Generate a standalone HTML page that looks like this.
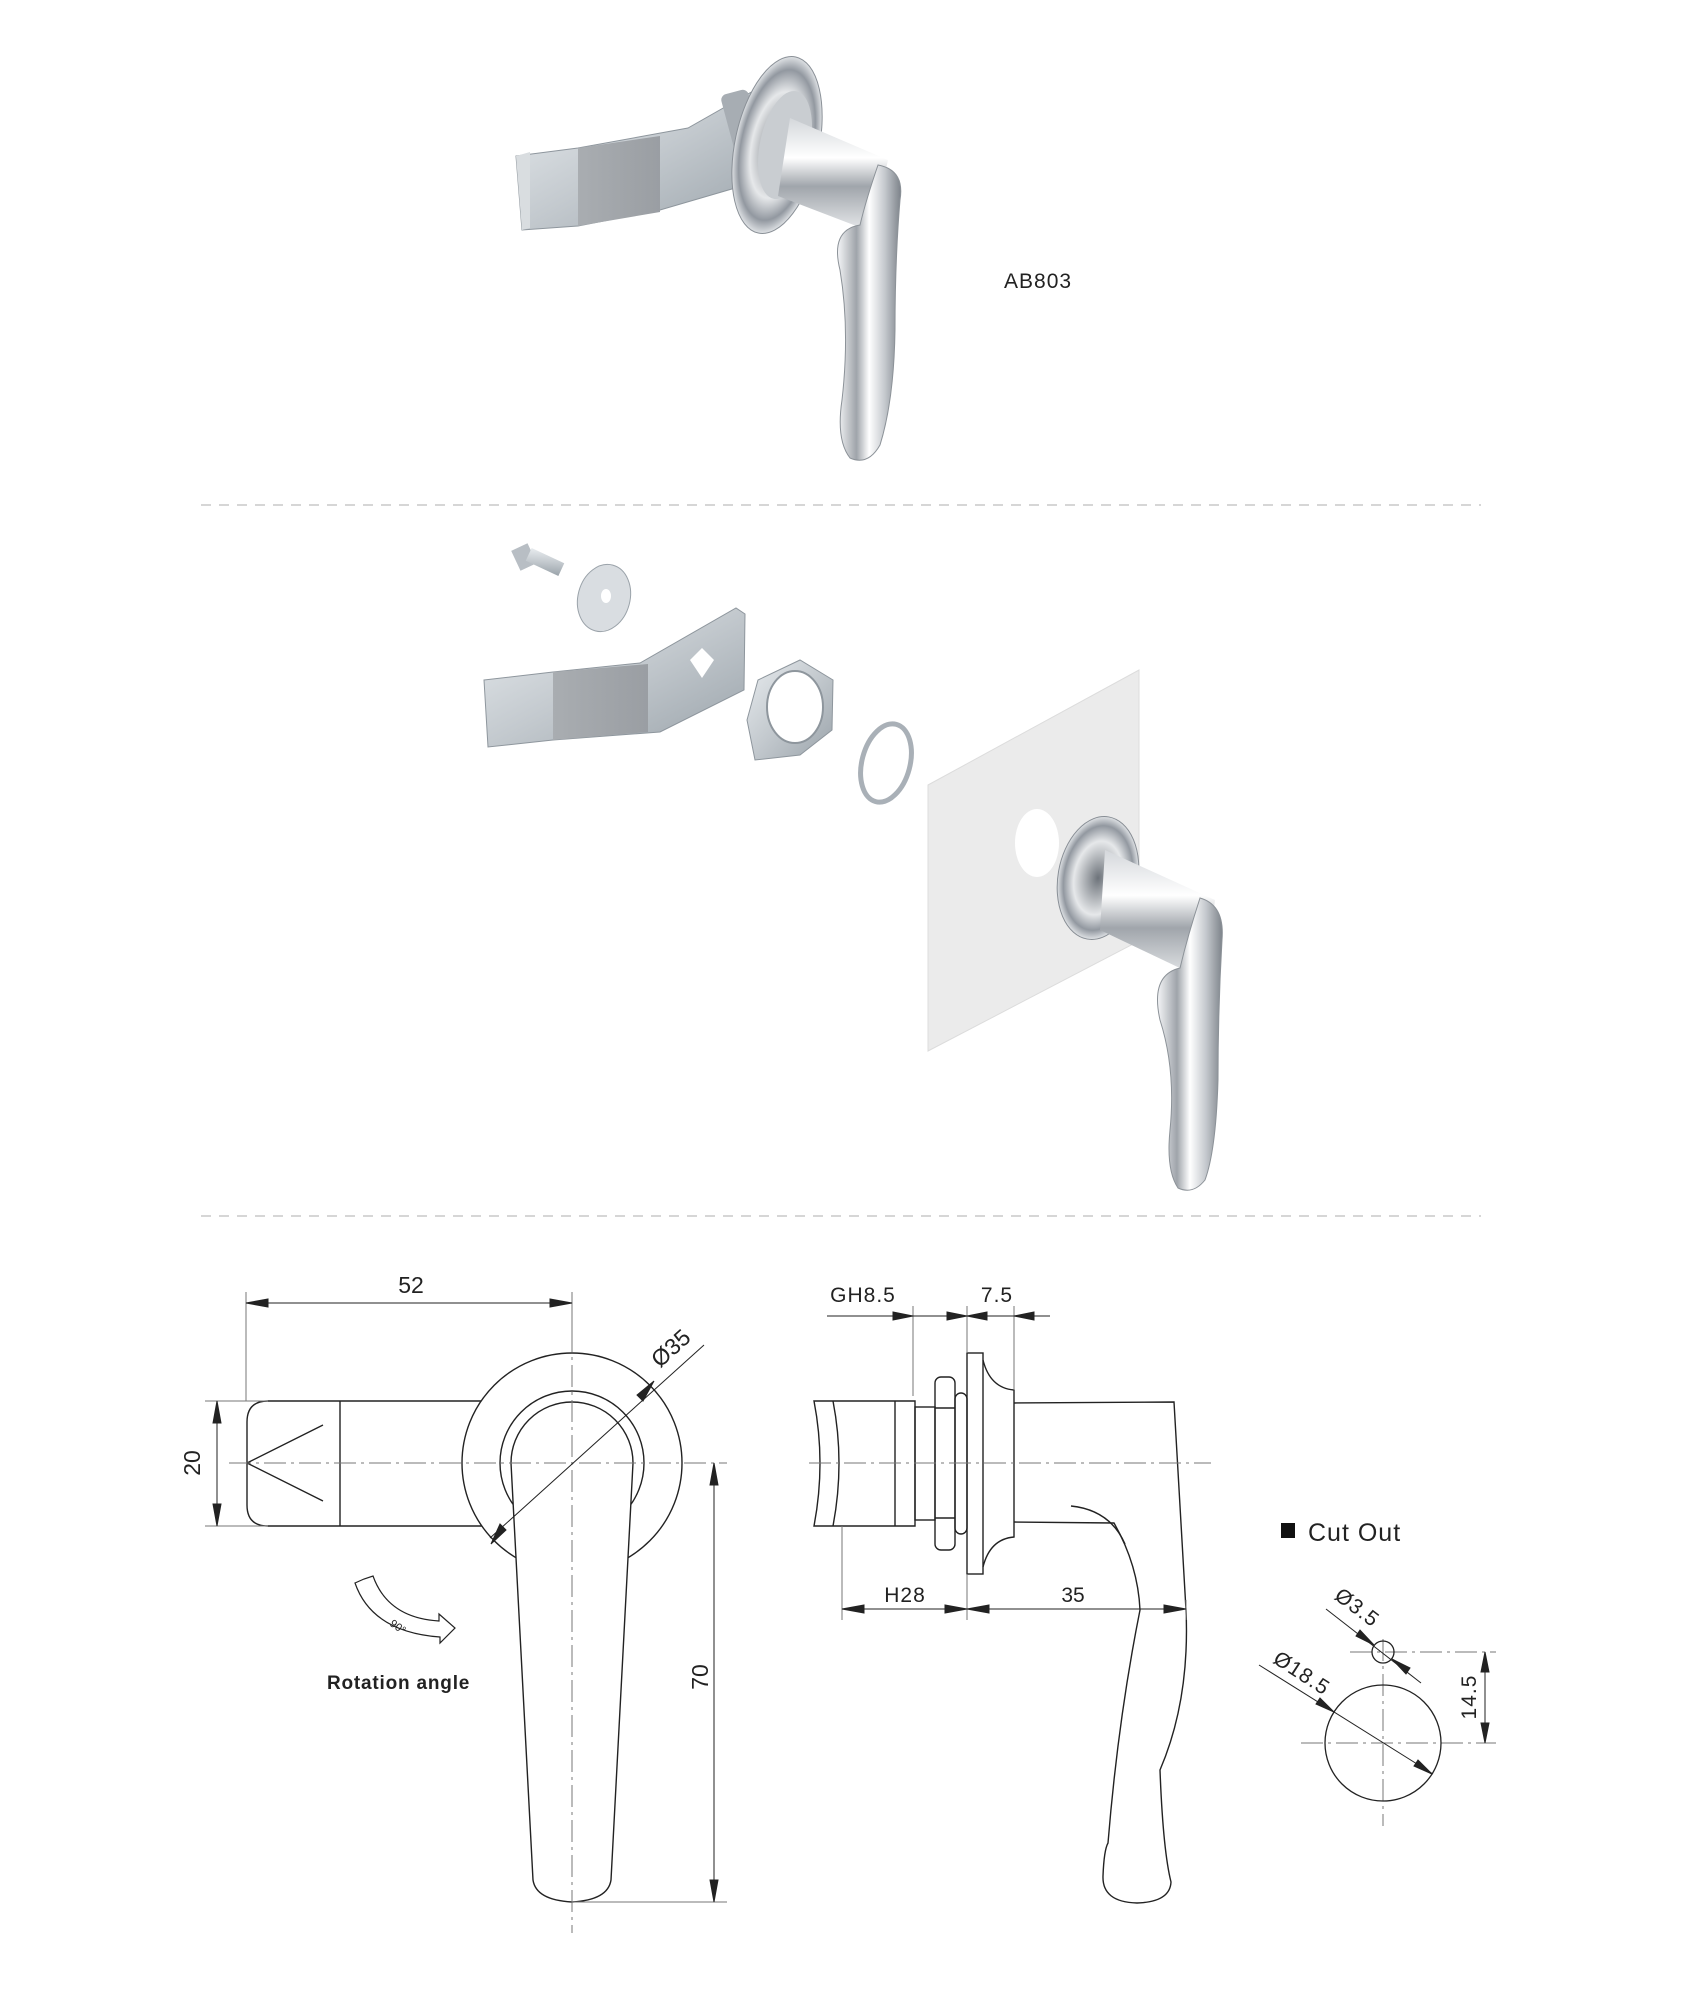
<!DOCTYPE html>
<html><head><meta charset="utf-8"><style>
html,body{margin:0;padding:0;background:#fff;}
svg{display:block;}
text{font-family:"Liberation Sans",sans-serif;fill:#222;}
</style></head><body>
<svg width="1682" height="1994" viewBox="0 0 1682 1994" xmlns="http://www.w3.org/2000/svg">
<defs>
<linearGradient id="zinc" x1="0" y1="0" x2="1" y2="1"><stop offset="0" stop-color="#e8ecef"/><stop offset="0.5" stop-color="#c3c9ce"/><stop offset="1" stop-color="#9aa3aa"/></linearGradient>
<linearGradient id="tex" x1="0" y1="0" x2="1" y2="0"><stop offset="0" stop-color="#a9adb1"/><stop offset="1" stop-color="#9a9ea3"/></linearGradient>
<linearGradient id="chrome" x1="0" y1="0" x2="1" y2="0"><stop offset="0" stop-color="#f4f5f7"/><stop offset="0.3" stop-color="#9fa4aa"/><stop offset="0.5" stop-color="#ffffff"/><stop offset="0.75" stop-color="#c4c8cd"/><stop offset="1" stop-color="#7d838a"/></linearGradient>
<linearGradient id="chrome2" x1="0" y1="0" x2="0" y2="1"><stop offset="0" stop-color="#d4d7db"/><stop offset="0.35" stop-color="#ffffff"/><stop offset="0.6" stop-color="#a0a5ab"/><stop offset="1" stop-color="#e9ebed"/></linearGradient>
<radialGradient id="disc"><stop offset="0" stop-color="#6d737a"/><stop offset="0.6" stop-color="#e6e8ea"/><stop offset="0.85" stop-color="#9298a0"/><stop offset="1" stop-color="#dfe2e5"/></radialGradient>
</defs>

<!-- ===== TOP PRODUCT ===== -->
<g>
<polygon points="516,156 578,148 688,128 762,86 770,94 770,160 742,186 660,210 578,226 522,230" fill="url(#zinc)" stroke="#8e969d" stroke-width="1"/>
<polygon points="578,148 660,136 660,212 578,226" fill="url(#tex)"/>
<polygon points="516,156 530,152 530,228 522,230" fill="#d9dde0"/>
<rect x="735" y="90" width="28" height="120" rx="6" fill="#a7adb3" transform="rotate(-15 749 150)"/>
<ellipse cx="777" cy="145" rx="42" ry="90" fill="url(#disc)" stroke="#8a9097" transform="rotate(12 777 145)"/>
<ellipse cx="785" cy="145" rx="25" ry="55" fill="#c9cdd1" transform="rotate(12 785 145)"/>
<polygon points="790,118 888,160 872,232 778,196" fill="url(#chrome2)"/>
<path d="M878,165 Q905,170 900,200 Q895,260 895,330 Q894,400 880,445 Q868,466 850,458 Q836,440 842,400 Q850,330 840,270 Q830,230 860,225 Q866,200 878,165 Z" fill="url(#chrome)" stroke="#8c9298" stroke-width="1"/>
</g>
<text x="1004" y="288" font-size="21" letter-spacing="1">AB803</text>

<line x1="201" y1="505" x2="1481" y2="505" stroke="#c8c8c8" stroke-width="1.5" stroke-dasharray="10,8"/>

<!-- ===== EXPLODED VIEW ===== -->
<g>
<rect x="515" y="546" width="18" height="22" fill="#b8bec4" transform="rotate(-25 524 557)"/>
<rect x="527" y="555" width="36" height="14" fill="url(#zinc)" transform="rotate(25 545 562)"/>
<ellipse cx="604" cy="598" rx="26" ry="34" fill="#d9dde1" stroke="#9aa2a9" transform="rotate(15 604 598)"/>
<ellipse cx="606" cy="596" rx="5" ry="7" fill="#fff"/>
<polygon points="484,680 553,672 640,663 736,608 745,614 744,690 660,732 553,740 488,747" fill="url(#zinc)" stroke="#8e969d"/>
<polygon points="553,672 648,664 648,732 553,740" fill="url(#tex)"/>
<polygon points="690,660 702,648 714,660 702,678" fill="#fff"/>
<polygon points="747,720 758,680 800,660 833,680 832,730 800,755 755,760" fill="url(#zinc)" stroke="#8e969d"/>
<ellipse cx="795" cy="707" rx="28" ry="36" fill="#fff" stroke="#8e969d" stroke-width="2"/>
<ellipse cx="886" cy="763" rx="24" ry="40" fill="none" stroke="#a9b0b7" stroke-width="5" transform="rotate(15 886 763)"/>
<polygon points="928,785 1139,670 1139,941 928,1051" fill="#ebebeb" stroke="#dcdcdc"/>
<ellipse cx="1037" cy="843" rx="22" ry="34" fill="#fff"/>
<ellipse cx="1098" cy="878" rx="40" ry="62" fill="url(#disc)" stroke="#888e95" transform="rotate(10 1098 878)"/>
<polygon points="1105,850 1215,900 1205,980 1100,930" fill="url(#chrome2)"/>
<path d="M1200,898 Q1225,905 1222,940 Q1218,1010 1218,1080 Q1216,1150 1205,1180 Q1193,1195 1178,1188 Q1166,1170 1170,1130 Q1176,1070 1160,1020 Q1150,975 1180,968 Q1188,935 1200,898 Z" fill="url(#chrome)" stroke="#8c9298"/>
</g>

<line x1="201" y1="1216" x2="1481" y2="1216" stroke="#c8c8c8" stroke-width="1.5" stroke-dasharray="10,8"/>

<!-- ===== FRONT VIEW DRAWING ===== -->
<g fill="none" stroke="#222" stroke-width="1.4">
<!-- bar -->
<path d="M268,1401 L485,1401 L485,1526 L268,1526 Q247,1526 247,1505 L247,1422 Q247,1401 268,1401 Z" fill="#fff"/>
<line x1="340" y1="1401" x2="340" y2="1526"/>
<polyline points="323,1425 247,1463 323,1501"/>
<circle cx="572" cy="1463" r="110" fill="#fff"/>
<circle cx="572" cy="1463" r="72" fill="#fff"/>
<path d="M511,1463 A61,61 0 0 1 633,1463 L611,1880 Q608,1900 572,1902 Q536,1900 533,1880 Z" fill="#fff"/>
</g>
<g stroke="#777" stroke-width="1" fill="none">
<line x1="229" y1="1463" x2="727" y2="1463" stroke-dasharray="22,5,3,5"/>
<line x1="572" y1="1330" x2="572" y2="1933" stroke-dasharray="22,5,3,5"/>
<line x1="246" y1="1292" x2="246" y2="1401"/>
<line x1="572" y1="1292" x2="572" y2="1330"/>
<line x1="205" y1="1401" x2="268" y2="1401"/>
<line x1="205" y1="1526" x2="268" y2="1526"/>
<line x1="572" y1="1902" x2="727" y2="1902"/>
</g>
<g stroke="#222" stroke-width="1" fill="#222">
<line x1="246" y1="1303" x2="572" y2="1303"/>
<polygon points="246,1303 268,1299 268,1307"/><polygon points="572,1303 550,1299 550,1307"/>
<line x1="217" y1="1401" x2="217" y2="1526"/>
<polygon points="217,1401 213,1423 221,1423"/><polygon points="217,1526 213,1504 221,1504"/>
<line x1="714" y1="1463" x2="714" y2="1902"/>
<polygon points="714,1463 710,1485 718,1485"/><polygon points="714,1902 710,1880 718,1880"/>
<line x1="490" y1="1538" x2="704" y2="1345"/>
<polygon points="491,1544 500,1524 506,1530"/><polygon points="654,1381 637,1395 643,1401"/>
</g>
<path d="M355,1583 L364,1579 L373,1576 Q388,1618 439,1621 L439,1614 L455,1628 L440,1643 L440,1637 Q372,1632 355,1583 Z" fill="#fff" stroke="#222" stroke-width="1.2"/>
<text x="389" y="1625" font-size="11" transform="rotate(35 389 1625)">90°</text>
<text x="327" y="1689" font-size="19" font-weight="bold" letter-spacing="0.8">Rotation angle</text>
<text x="411" y="1293" font-size="23" text-anchor="middle">52</text>
<text x="0" y="0" font-size="23" text-anchor="middle" transform="translate(200,1463) rotate(-90)">20</text>
<text x="0" y="0" font-size="23" text-anchor="middle" transform="translate(708,1677) rotate(-90)">70</text>
<text x="0" y="0" font-size="23" text-anchor="middle" transform="translate(676,1354) rotate(-42)">Ø35</text>

<!-- ===== SIDE VIEW ===== -->
<g fill="none" stroke="#222" stroke-width="1.4">
<path d="M814,1401 L915,1401 L915,1526 L814,1526 Q826,1463 814,1401 Z" fill="#fff"/>
<path d="M833,1401 Q845,1463 833,1526"/>
<line x1="895" y1="1401" x2="895" y2="1526"/>
<rect x="915" y="1407" width="20" height="113"/>
<rect x="935" y="1377" width="20" height="173" rx="6"/>
<line x1="935" y1="1408" x2="955" y2="1408"/><line x1="935" y1="1518" x2="955" y2="1518"/>
<rect x="955" y="1393" width="12" height="141" rx="6"/>
<rect x="967" y="1353" width="16" height="221"/>
<path d="M983,1360 Q990,1388 1014,1390 L1014,1537 Q990,1539 983,1567"/>
<path d="M1014,1403 L1174,1402 Q1180,1500 1186,1610 Q1190,1700 1160,1770 Q1163,1850 1171,1882 Q1170,1902 1137,1903 Q1102,1902 1103,1876 Q1104,1850 1108,1843 Q1118,1720 1140,1610 Q1138,1565 1114,1523 L1014,1522"/>
<path d="M1071,1506 Q1110,1510 1125,1544"/>
</g>
<g stroke="#777" stroke-width="1" fill="none">
<line x1="809" y1="1463" x2="1211" y2="1463" stroke-dasharray="22,5,3,5"/>
<line x1="913" y1="1306" x2="913" y2="1396"/>
<line x1="967" y1="1306" x2="967" y2="1353"/>
<line x1="1014" y1="1306" x2="1014" y2="1390"/>
<line x1="842" y1="1526" x2="842" y2="1620"/>
<line x1="967" y1="1574" x2="967" y2="1620"/>
<line x1="1186" y1="1600" x2="1186" y2="1620"/>
</g>
<g stroke="#222" stroke-width="1" fill="#222">
<line x1="827" y1="1316" x2="1050" y2="1316"/>
<polygon points="913,1316 893,1312 893,1320"/><polygon points="967,1316 947,1312 947,1320"/>
<polygon points="967,1316 987,1312 987,1320"/><polygon points="1014,1316 1034,1312 1034,1320"/>
<line x1="842" y1="1609" x2="1186" y2="1609"/>
<polygon points="842,1609 864,1605 864,1613"/><polygon points="967,1609 945,1605 945,1613"/>
<polygon points="967,1609 989,1605 989,1613"/><polygon points="1186,1609 1164,1605 1164,1613"/>
</g>
<text x="863" y="1302" font-size="21" text-anchor="middle" letter-spacing="1">GH8.5</text>
<text x="997" y="1302" font-size="21" text-anchor="middle" letter-spacing="1">7.5</text>
<text x="905" y="1602" font-size="21" text-anchor="middle" letter-spacing="1">H28</text>
<text x="1073" y="1602" font-size="21" text-anchor="middle">35</text>

<!-- ===== CUT OUT ===== -->
<rect x="1281" y="1523" width="14" height="15" fill="#111"/>
<text x="1308" y="1541" font-size="25" letter-spacing="1">Cut Out</text>
<g stroke="#777" stroke-width="1" fill="none" stroke-dasharray="22,5,3,5">
<line x1="1350" y1="1652" x2="1496" y2="1652"/>
<line x1="1301" y1="1743" x2="1496" y2="1743"/>
<line x1="1383" y1="1639" x2="1383" y2="1826"/>
</g>
<g stroke="#222" stroke-width="1.3" fill="none">
<circle cx="1383" cy="1652" r="11"/>
<circle cx="1383" cy="1743" r="58"/>
</g>
<g stroke="#222" stroke-width="1" fill="#222">
<line x1="1326" y1="1609" x2="1421" y2="1683"/>
<polygon points="1374,1645 1356,1636 1360,1630"/><polygon points="1392,1659 1410,1668 1406,1674"/>
<line x1="1259" y1="1665" x2="1433" y2="1774"/>
<polygon points="1334,1712 1316,1704 1320,1698"/><polygon points="1432,1774 1414,1766 1418,1760"/>
<line x1="1485" y1="1652" x2="1485" y2="1743"/>
<polygon points="1485,1652 1481,1672 1489,1672"/><polygon points="1485,1743 1481,1723 1489,1723"/>
</g>
<text x="0" y="0" font-size="21" text-anchor="middle" letter-spacing="1" transform="translate(1353,1613) rotate(37)">Ø3.5</text>
<text x="0" y="0" font-size="21" text-anchor="middle" letter-spacing="1" transform="translate(1298,1679) rotate(33)">Ø18.5</text>
<text x="0" y="0" font-size="21" text-anchor="middle" letter-spacing="1" transform="translate(1476,1697) rotate(-90)">14.5</text>
</svg>
</body></html>
